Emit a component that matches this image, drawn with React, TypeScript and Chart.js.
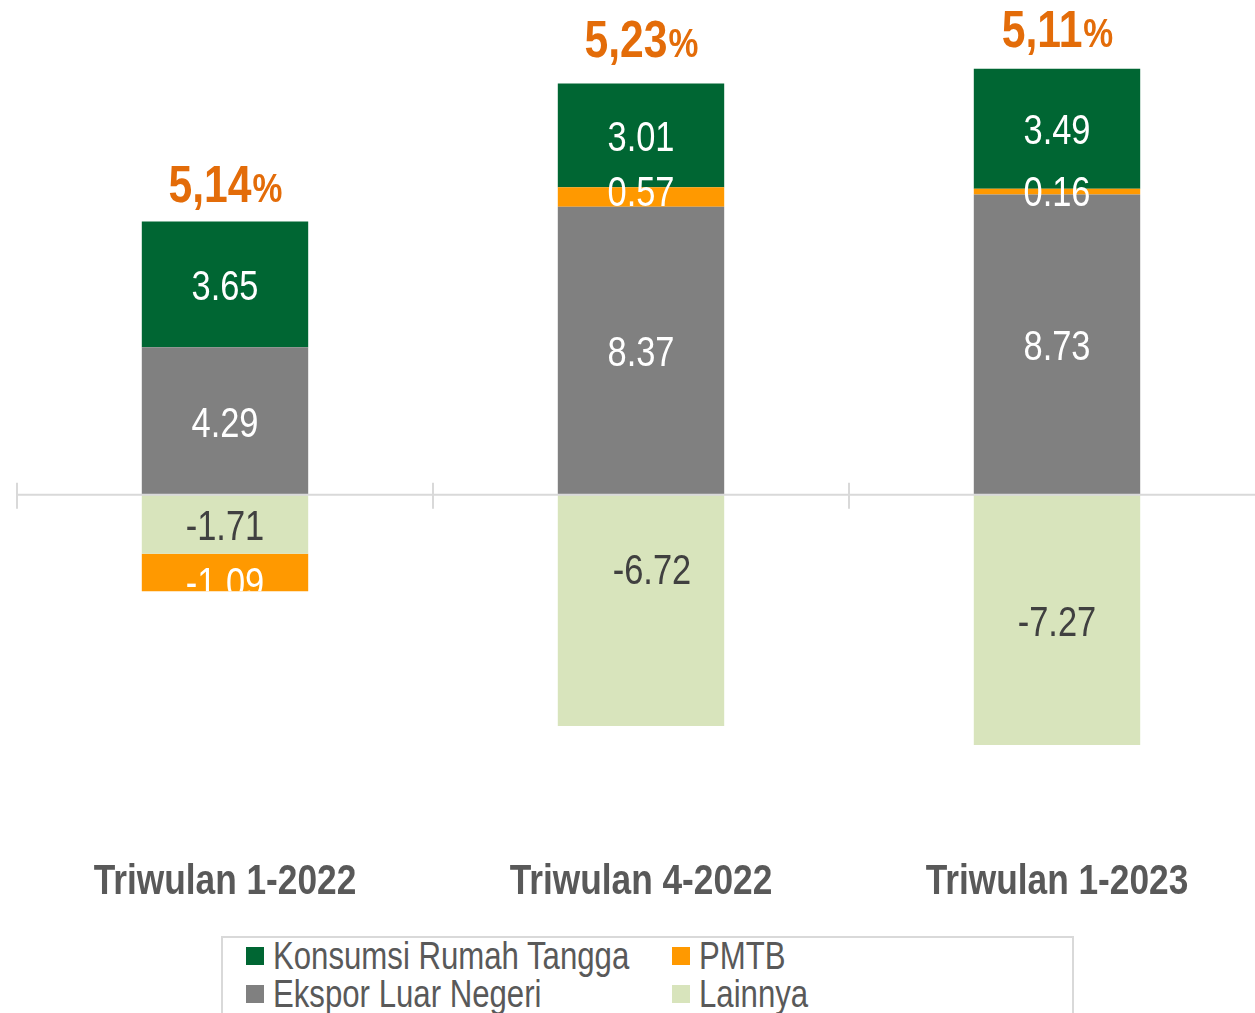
import React, { useEffect, useRef } from "react";
import { Chart, registerables } from "chart.js";

Chart.register(...registerables);

const categories = ["Triwulan 1-2022", "Triwulan 4-2022", "Triwulan 1-2023"];
const konsumsi = [3.65, 3.01, 3.49];
const pmtb = [-1.09, 0.57, 0.16];
const ekspor = [4.29, 8.37, 8.73];
const lainnya = [-1.71, -6.72, -7.27];
const totals = [5.14, 5.23, 5.11];
const yMin = -10;
const yMax = 14;

// small manual nudges of some data labels (series label -> per category [dx, dy])
const labelNudges: Record<string, [number, number][]> = {
  PMTB: [[0, 13], [0, -3], [0, 3]],
  Lainnya: [[0, 4], [11, -38], [0, 4]],
};
const totalNudges = [0, -7, -2];

const FONT = "'Liberation Sans', Arial, sans-serif";
const SQUEEZE = 0.82;

const legendItems = [
  { label: "Konsumsi Rumah Tangga", color: "#006633" },
  { label: "PMTB", color: "#FF9900" },
  { label: "Ekspor Luar Negeri", color: "#808080" },
  { label: "Lainnya", color: "#D8E4BC" },
];

function narrowText(ctx: CanvasRenderingContext2D, text: string, x: number, y: number) {
  ctx.save();
  ctx.translate(x, y);
  ctx.scale(SQUEEZE, 1);
  ctx.fillText(text, 0, 0);
  ctx.restore();
}

const labelPlugin = {
  id: "customLabels",
  afterDatasetsDraw(chart: any) {
    const ctx: CanvasRenderingContext2D = chart.ctx;
    const { left, right, bottom } = chart.chartArea;
    const y0 = chart.scales.y.getPixelForValue(0);
    const n = categories.length;
    const catW = (right - left) / n;
    ctx.save();
    ctx.strokeStyle = "#d9d9d9";
    ctx.lineWidth = 2;
    ctx.beginPath();
    ctx.moveTo(left, y0);
    ctx.lineTo(right, y0);
    for (let i = 0; i <= n; i++) {
      const x = Math.round(left + i * catW);
      ctx.moveTo(x, y0 - 12);
      ctx.lineTo(x, y0 + 14);
    }
    ctx.stroke();
    ctx.restore();

    // value labels
    chart.data.datasets.forEach((ds: any, di: number) => {
      const meta = chart.getDatasetMeta(di);
      const nudges = labelNudges[ds.label];
      meta.data.forEach((el: any, i: number) => {
        const p = el.getProps(["x", "y", "base", "width"], true);
        const top = Math.min(p.y, p.base);
        const bot = Math.max(p.y, p.base);
        const cy = (top + bot) / 2;
        const [dx, dy] = nudges ? nudges[i] : [0, 4];
        ctx.save();
        if (bot - top > 12) {
          ctx.beginPath();
          ctx.rect(p.x - p.width / 2, 0, p.width, bot);
          ctx.clip();
        }
        ctx.font = `42px ${FONT}`;
        ctx.fillStyle = ds.labelColor;
        ctx.textAlign = "center";
        ctx.textBaseline = "middle";
        narrowText(ctx, ds.data[i].toFixed(2), p.x + dx, cy + dy);
        ctx.restore();
      });
    });

    // totals
    totals.forEach((t, i) => {
      let top = Infinity;
      let cx = 0;
      chart.data.datasets.forEach((_ds: any, di: number) => {
        const el = chart.getDatasetMeta(di).data[i];
        const p = el.getProps(["x", "y", "base"], true);
        top = Math.min(top, p.y, p.base);
        cx = p.x;
      });
      const num = t.toFixed(2).replace(".", ",");
      ctx.save();
      ctx.fillStyle = "#E36C09";
      ctx.textBaseline = "alphabetic";
      ctx.textAlign = "left";
      ctx.font = `bold 52px ${FONT}`;
      const w1 = ctx.measureText(num).width * SQUEEZE;
      ctx.font = `bold 41px ${FONT}`;
      const w2 = ctx.measureText("%").width * SQUEEZE;
      const sx = cx - (w1 + w2) / 2;
      const by = top - 20 + totalNudges[i];
      ctx.font = `bold 52px ${FONT}`;
      narrowText(ctx, num, sx, by);
      ctx.font = `bold 41px ${FONT}`;
      narrowText(ctx, "%", sx + w1 + 1, by);
      ctx.restore();
    });

    // category labels
    ctx.save();
    ctx.fillStyle = "#595959";
    ctx.font = `bold 43px ${FONT}`;
    ctx.textAlign = "center";
    ctx.textBaseline = "alphabetic";
    categories.forEach((c, i) => {
      const x = chart.scales.x.getPixelForValue(i);
      narrowText(ctx, c, x, bottom + 55);
    });
    ctx.restore();
  },
};

function ChartCanvas() {
  const ref = useRef<HTMLCanvasElement>(null);
  useEffect(() => {
    if (!ref.current) return;
    const chart = new Chart(ref.current, {
      type: "bar",
      data: {
        labels: categories,
        datasets: [
          { label: "Ekspor Luar Negeri", data: ekspor, backgroundColor: "#808080", labelColor: "#ffffff" } as any,
          { label: "Lainnya", data: lainnya, backgroundColor: "#D8E4BC", labelColor: "#404040" } as any,
          { label: "PMTB", data: pmtb, backgroundColor: "#FF9900", labelColor: "#ffffff" } as any,
          { label: "Konsumsi Rumah Tangga", data: konsumsi, backgroundColor: "#006633", labelColor: "#ffffff" } as any,
        ],
      },
      options: {
        responsive: false,
        animation: false,
        layout: { padding: { left: 17, right: 10, top: 13, bottom: 86 } },
        datasets: { bar: { barPercentage: 1, categoryPercentage: 0.4 } },
        plugins: { legend: { display: false }, tooltip: { enabled: false } },
        scales: {
          x: {
            stacked: true,
            display: false,
          },
          y: {
            stacked: true,
            display: false,
            min: yMin,
            max: yMax,
          },
        },
      },
      plugins: [labelPlugin],
    });
    return () => chart.destroy();
  }, []);
  return <canvas ref={ref} width={1275} height={925} style={{ display: "block", width: 1275, height: 925 }} />;
}

export default function App() {
  return (
    <div
      style={{
        position: "absolute",
        left: 0,
        top: 0,
        width: 1255,
        height: 1013,
        overflow: "hidden",
        background: "#ffffff",
      }}
    >
      <div style={{ position: "absolute", left: 0, top: 0 }}>
        <ChartCanvas />
      </div>
      <div
        style={{
          position: "absolute",
          left: 221,
          top: 936,
          width: 853,
          height: 120,
          border: "2px solid #d9d9d9",
          boxSizing: "border-box",
          fontFamily: FONT,
          fontSize: 38,
          color: "#595959",
        }}
      >
        {legendItems.map((it, i) => (
          <div
            key={it.label}
            style={{
              position: "absolute",
              left: i % 2 === 0 ? 23 : 449,
              top: i < 2 ? -1 : 37,
              height: 38,
              lineHeight: "38px",
              display: "flex",
              alignItems: "center",
              whiteSpace: "nowrap",
            }}
          >
            <span style={{ display: "inline-block", width: 18, height: 18, background: it.color, marginRight: 9 }} />
            <span style={{ display: "inline-block", transform: `scaleX(${SQUEEZE})`, transformOrigin: "left center" }}>
              {it.label}
            </span>
          </div>
        ))}
      </div>
    </div>
  );
}
